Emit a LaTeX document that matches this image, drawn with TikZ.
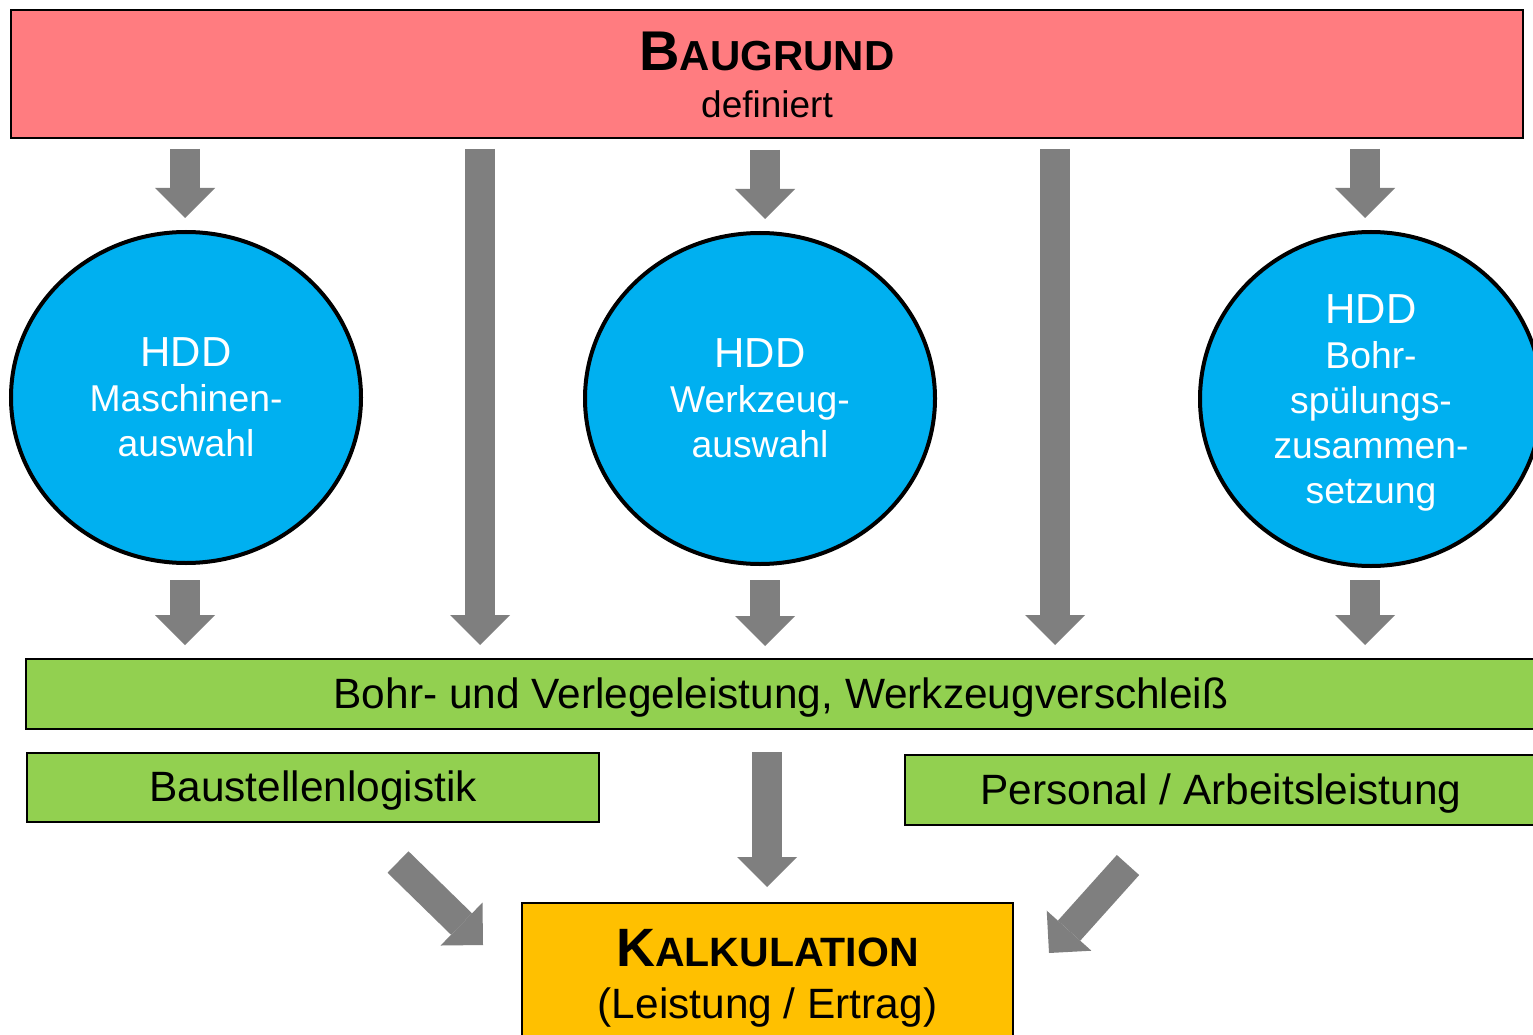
\documentclass[tikz,border=0pt]{standalone}
\usepackage{fontspec}
\setmainfont{Liberation Sans}
\usetikzlibrary{arrows.meta,shapes.geometric}
\definecolor{boxred}{HTML}{FF7C80}
\definecolor{circblue}{HTML}{00B0F0}
\definecolor{boxgreen}{HTML}{92D050}
\definecolor{boxorange}{HTML}{FFC000}
\definecolor{arrgray}{HTML}{7F7F7F}
\newcommand\pxfont[1]{\fontsize{\fpeval{#1*0.75}pt}{\fpeval{#1*0.9}pt}\selectfont}
\begin{document}
\begin{tikzpicture}[x=0.75pt,y=-0.75pt,
  box/.style={draw=black,line width=1.5pt,rectangle,inner sep=0pt,outer sep=0pt},
  greenbox/.style={box,fill=boxgreen,minimum height=52.5pt,text height=21pt,text depth=0pt,font=\pxfont{42.4}},
  circ/.style={draw=black,line width=3pt,fill=circblue,ellipse,inner sep=0pt,
    minimum width=262.5pt,minimum height=248.25pt,text=white,align=center,
    text depth=0pt,font=\fontsize{28pt}{33.75pt}\selectfont},
  txt/.style={inner sep=0pt,anchor=base},
  blockarrow/.style={draw=arrgray,line width=22.5pt,line cap=butt,
    -{Triangle[width=45pt,length=22.5pt,line width=0pt]}}]
\useasboundingbox (0,0) rectangle (1533,1034);
\fill[white] (0,0) rectangle (1533,1034);
\clip (0,0) rectangle (1533,1034);

% top box
\node[box,fill=boxred,minimum width=1134pt,minimum height=96pt] (baugrund) at (767,74) {};
\node[txt,font=\bfseries] (baugrundtitle) at (767,71) {{\pxfont{56}B}{\pxfont{42}AUGRUND}};
\node[txt,font=\pxfont{37}] (baugrundsub) at (767,118) {definiert};

% circles
\node[circ] (maschine) at (186,397.5) {{\pxfont{42}HDD}\\Maschinen-\\auswahl};
\node[circ] (werkzeug) at (760,398.5) {{\pxfont{42}HDD}\\Werkzeug-\\auswahl};
\node[circ,minimum width=256.5pt,minimum height=250.5pt] (spuelung) at (1371,399) {{\pxfont{42}HDD}\\Bohr-\\spülungs-\\zusammen-\\setzung};

% green boxes
\node[greenbox,minimum width=1132.5pt] (leistung) at (781,694) {Bohr- und Verlegeleistung, Werkzeugverschleiß};
\node[greenbox,minimum width=429pt,minimum height=51.75pt] (logistik) at (313,787.5) {Baustellenlogistik};
\node[greenbox,minimum width=474pt] (personal) at (1221,790) {Personal / Arbeitsleistung};

% bottom box
\node[box,fill=boxorange,minimum width=368.25pt,minimum height=106.5pt] (kalkulation) at (767.5,974) {};
\node[txt,font=\bfseries] (kalktitle) at (767.5,966) {{\pxfont{54}K}{\pxfont{41}ALKULATION}};
\node[txt,font=\pxfont{42.4}] (kalksub) at (767.5,1018) {(Leistung / Ertrag)};

% arrow end points
\coordinate (a1s) at (185,149);  \coordinate (a1e) at (185,218);
\coordinate (a2s) at (480,149);  \coordinate (a2e) at (480,645);
\coordinate (a3s) at (765,150);  \coordinate (a3e) at (765,219);
\coordinate (a4s) at (1055,149); \coordinate (a4e) at (1055,645);
\coordinate (a5s) at (1365,149); \coordinate (a5e) at (1365,218);
\coordinate (b1s) at (185,580);  \coordinate (b1e) at (185,645);
\coordinate (b3s) at (765,580);  \coordinate (b3e) at (765,646);
\coordinate (b5s) at (1365,580); \coordinate (b5e) at (1365,645);
\coordinate (c1s) at (398,862);  \coordinate (c1e) at (483,945);
\coordinate (c2s) at (767,752);  \coordinate (c2e) at (767,887);
\coordinate (c3s) at (1128,865); \coordinate (c3e) at (1049,953);

\draw[blockarrow] (a1s) -- (a1e);
\draw[blockarrow] (a2s) -- (a2e);
\draw[blockarrow] (a3s) -- (a3e);
\draw[blockarrow] (a4s) -- (a4e);
\draw[blockarrow] (a5s) -- (a5e);
\draw[blockarrow] (b1s) -- (b1e);
\draw[blockarrow] (b3s) -- (b3e);
\draw[blockarrow] (b5s) -- (b5e);
\draw[blockarrow] (c1s) -- (c1e);
\draw[blockarrow] (c2s) -- (c2e);
\draw[blockarrow] (c3s) -- (c3e);
\end{tikzpicture}
\end{document}
